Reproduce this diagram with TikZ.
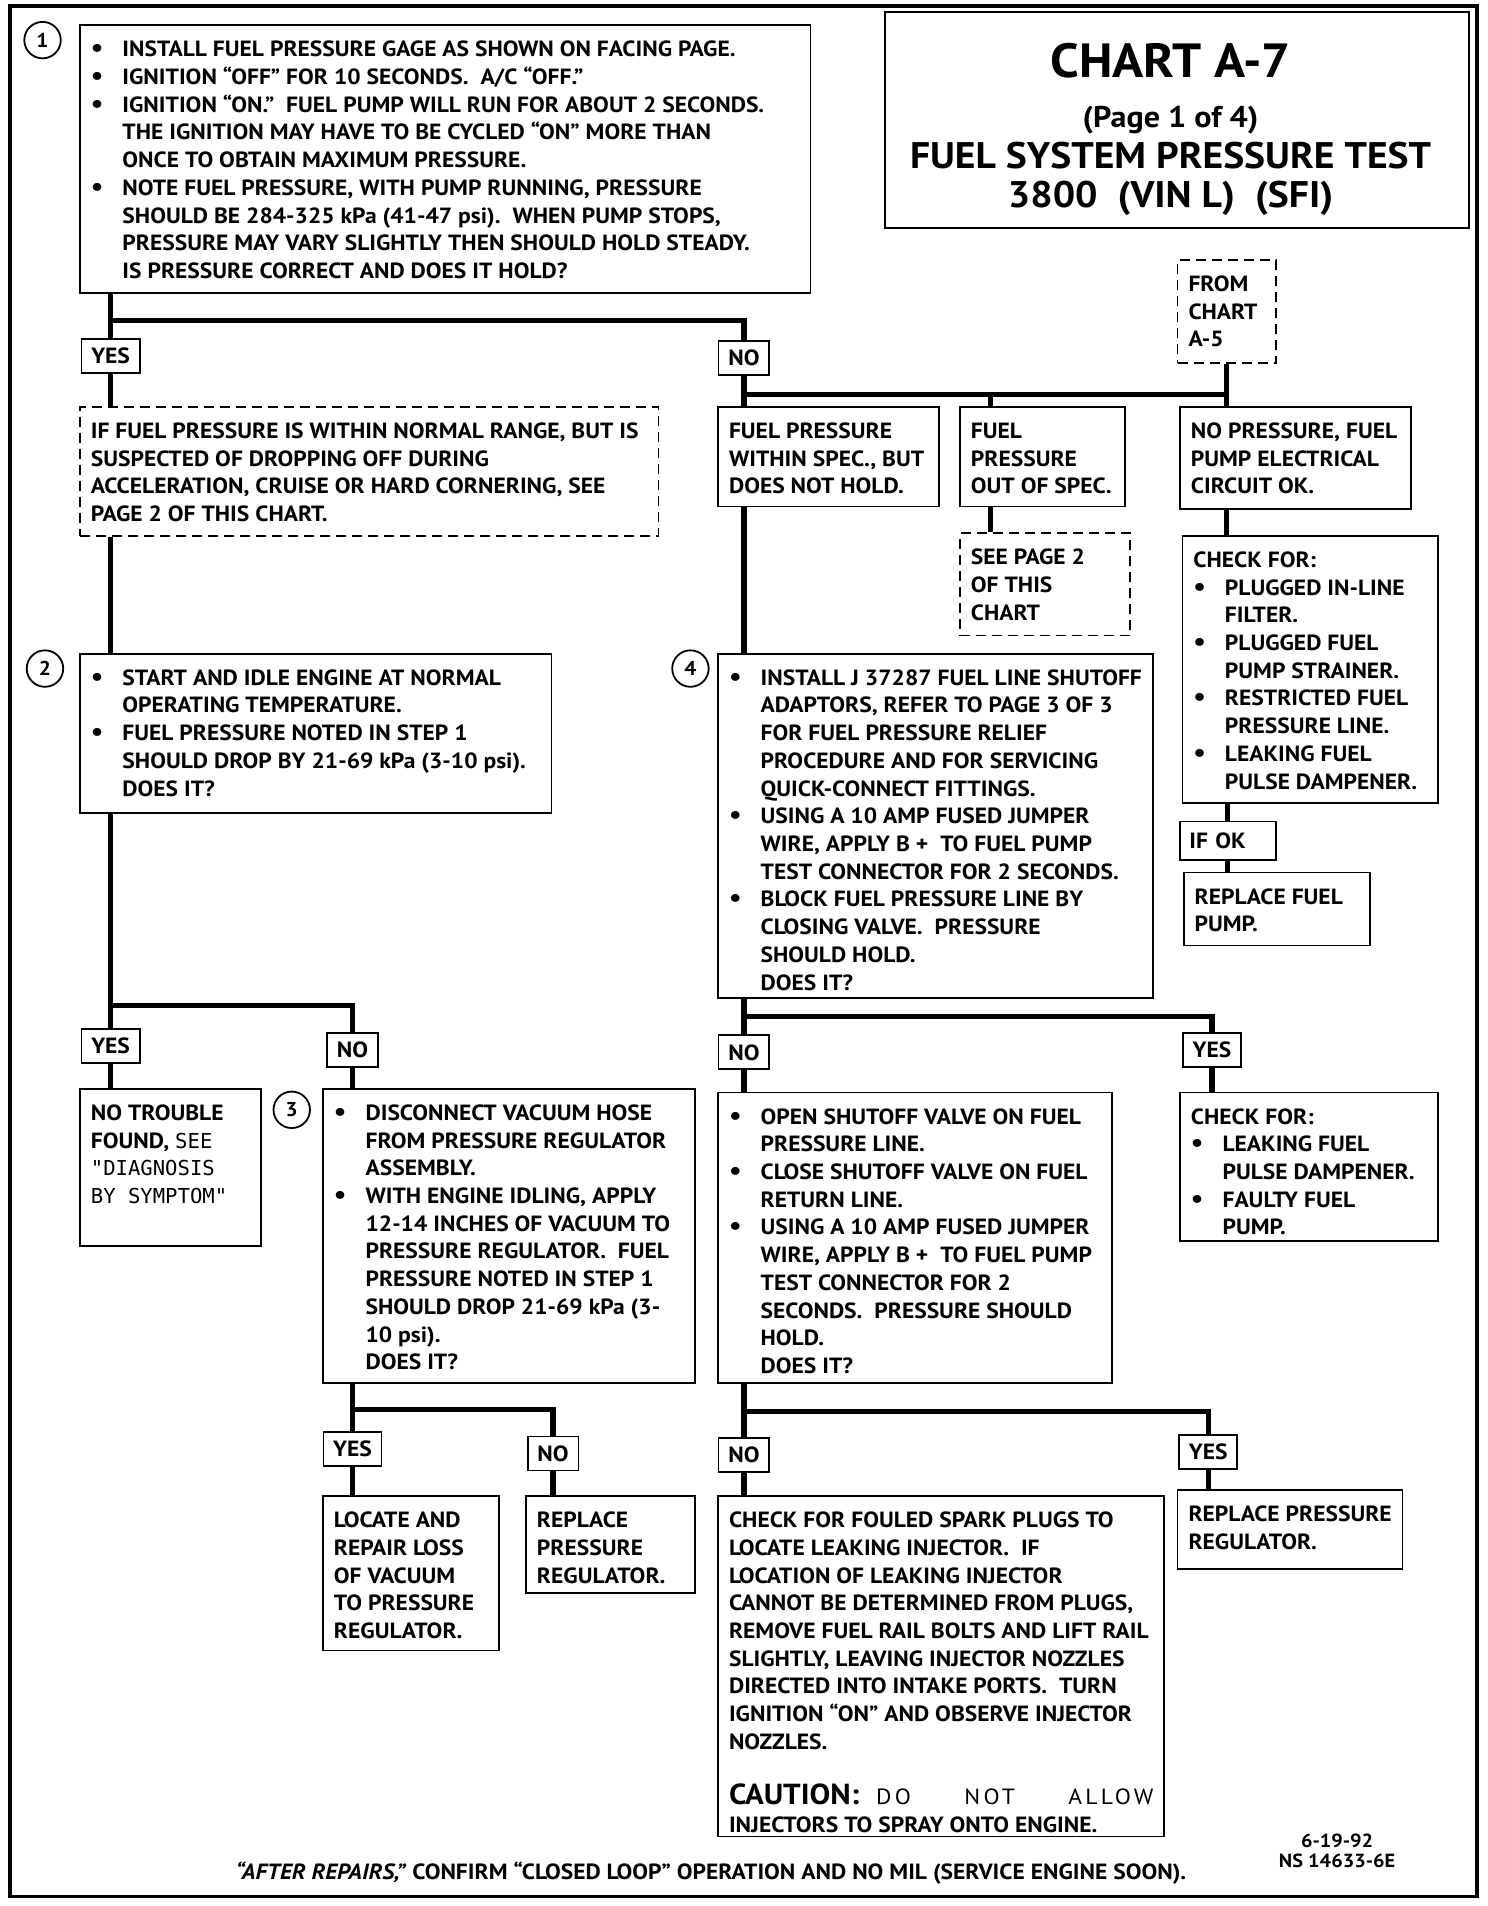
\documentclass[tikz,border=0pt]{standalone}
\usepackage{fontspec}
\setmainfont{PT Sans}[FakeStretch=1.07]
\newfontfamily\typed{DejaVu Sans Mono}
\usetikzlibrary{positioning,calc}

\newlength\pxu
\setlength\pxu{0.6079pt}
% fixed size text block, top aligned
\newcommand{\panel}[3]{\parbox[t][#2\pxu][t]{\dimexpr#1\pxu+4\pxu\relax}{%
  \rightskip=-10\pxu plus 1fil\strut#3}}
\newcommand{\bul}{\makebox[26\pxu][l]{\fontsize{13}{0}\selectfont\textbullet}}
\newcommand{\ind}{\hspace*{26\pxu}}

\begin{document}
\begin{tikzpicture}[
  x=0.6079pt, y=-0.6079pt,
  txt/.style={font=\bfseries\fontsize{11}{13.86}\selectfont},
  box/.style={txt, draw, line width=0.9pt, anchor=north west,
              inner xsep=9\pxu, inner ysep=10\pxu},
  dbox/.style={box, dash pattern=on 5pt off 3pt},
  tag/.style={txt, draw, line width=0.9pt, anchor=north,
              minimum height=28\pxu, inner xsep=8\pxu, inner ysep=0pt},
  num/.style={draw, circle, line width=0.9pt, minimum size=30\pxu,
              inner sep=0pt, font=\bfseries\fontsize{10}{12}\selectfont},
  flow/.style={line width=2.6pt},
  frame/.style={line width=1.8pt}
]
\useasboundingbox (0,0) rectangle (1224,1568);
\draw[frame] (8,5) rectangle (1215,1560);

% title
\node[draw, line width=0.9pt, anchor=north west, minimum width=481\pxu,
      minimum height=178\pxu] (titlebox) at (727,9) {};
\node[anchor=base, font=\bfseries\fontsize{24}{28}\selectfont] (chart) at (963,64) {CHART A-7};
\node[anchor=base, font=\bfseries\fontsize{15}{18}\selectfont] (page) at (963,105) {(Page 1 of 4)};
\node[anchor=base, font=\bfseries\fontsize{18.5}{22}\selectfont] (test) at (963,139) {FUEL SYSTEM PRESSURE TEST};
\node[anchor=base, font=\bfseries\fontsize{18.5}{22}\selectfont] (engine) at (963,171) {3800\ \ (VIN L)\ \ (SFI)};

% step 1
\node[num] (n1) at (35,33) {1};
\node[box] (s1) at (65,20) {\panel{579}{200}{%
  \bul INSTALL FUEL PRESSURE GAGE AS SHOWN ON FACING PAGE.\\
  \bul IGNITION ``OFF'' FOR 10 SECONDS.\ \ A/C ``OFF.''\\
  \bul IGNITION ``ON.''\ \ FUEL PUMP WILL RUN FOR ABOUT 2 SECONDS.\\
  \ind THE IGNITION MAY HAVE TO BE CYCLED ``ON'' MORE THAN\\
  \ind ONCE TO OBTAIN MAXIMUM PRESSURE.\\
  \bul NOTE FUEL PRESSURE, WITH PUMP RUNNING, PRESSURE\\
  \ind SHOULD BE 284-325 kPa (41-47 psi).\ \ WHEN PUMP STOPS,\\
  \ind PRESSURE MAY VARY SLIGHTLY THEN SHOULD HOLD STEADY.\\
  \ind IS PRESSURE CORRECT AND DOES IT HOLD?}};
\node[dbox] (from) at (968,213) {\panel{59}{65}{FROM\\CHART\\A-5}};

\node[tag] (yes1) at (91,278) {YES};
\node[tag] (no1) at (612,280) {NO};
\node[dbox] (note1) at (65,334) {\panel{454}{86}{%
  IF FUEL PRESSURE IS WITHIN NORMAL RANGE, BUT IS\\
  SUSPECTED OF DROPPING OFF DURING\\
  ACCELERATION, CRUISE OR HARD CORNERING, SEE\\
  PAGE 2 OF THIS CHART.}};
\node[box] (fa) at (590,334) {\panel{160}{62}{FUEL PRESSURE\\WITHIN SPEC., BUT\\DOES NOT HOLD.}};
\node[box] (fb) at (789,334) {\panel{114}{62}{FUEL\\PRESSURE\\OUT OF SPEC.}};
\node[box] (fc) at (970,334) {\panel{168}{64}{NO PRESSURE, FUEL\\PUMP ELECTRICAL\\CIRCUIT OK.}};
\node[dbox] (seep2) at (789,438) {\panel{118}{64}{SEE PAGE 2\\OF THIS\\CHART}};
\node[box] (chk1) at (972,440) {\panel{188}{200}{%
  CHECK FOR:\\
  \bul PLUGGED IN-LINE\\ \ind FILTER.\\
  \bul PLUGGED FUEL\\ \ind PUMP STRAINER.\\
  \bul RESTRICTED FUEL\\ \ind PRESSURE LINE.\\
  \bul LEAKING FUEL\\ \ind PULSE DAMPENER.}};
\node[tag, minimum height=32\pxu, text width=63\pxu, align=left,
      inner xsep=8\pxu] (ifok) at (1010,675) {IF OK};
\node[box] (rpump) at (973,717) {\panel{131}{40}{REPLACE FUEL\\PUMP.}};

% step 2 and 4
\node[num] (n2) at (37,550) {2};
\node[box] (s2) at (65,537) {\panel{366}{111}{%
  \bul START AND IDLE ENGINE AT NORMAL\\
  \ind OPERATING TEMPERATURE.\\
  \bul FUEL PRESSURE NOTED IN STEP 1\\
  \ind SHOULD DROP BY 21-69 kPa (3-10 psi).\\
  \ind DOES IT?}};
\node[num] (n4) at (568,550) {4};
\node[box] (s4) at (590,537) {\panel{336}{263}{%
  \bul INSTALL J 37287 FUEL LINE SHUTOFF\\
  \ind ADAPTORS, REFER TO PAGE 3 OF 3\\
  \ind FOR FUEL PRESSURE RELIEF\\
  \ind PROCEDURE AND FOR SERVICING\\
  \ind QUICK-CONNECT FITTINGS.\\
  \bul USING A 10 AMP FUSED JUMPER\\
  \ind WIRE, APPLY B +\ \ TO FUEL PUMP\\
  \ind TEST CONNECTOR FOR 2 SECONDS.\\
  \bul BLOCK FUEL PRESSURE LINE BY\\
  \ind CLOSING VALVE.\ \ PRESSURE\\
  \ind SHOULD HOLD.\\
  \ind DOES IT?}};

\node[tag] (yes2) at (91,846) {YES};
\node[tag] (no2) at (290,849) {NO};
\node[tag] (no4) at (612,851) {NO};
\node[tag] (yes4) at (997,849) {YES};

% step 3 and 5
\node[box] (ntf) at (65,895) {\panel{127}{109}{%
  NO TROUBLE\\
  FOUND, {\typed\mdseries\fontsize{10.3}{13.86}\selectfont SEE}\\
  {\typed\mdseries\fontsize{10.3}{13.86}\selectfont "DIAGNOSIS}\\
  {\typed\mdseries\fontsize{10.3}{13.86}\selectfont BY SYMPTOM"}}};
\node[num] (n3) at (240,913) {3};
\node[box] (s3) at (265,895) {\panel{284}{222}{%
  \bul DISCONNECT VACUUM HOSE\\
  \ind FROM PRESSURE REGULATOR\\
  \ind ASSEMBLY.\\
  \bul WITH ENGINE IDLING, APPLY\\
  \ind 12-14 INCHES OF VACUUM TO\\
  \ind PRESSURE REGULATOR.\ \ FUEL\\
  \ind PRESSURE NOTED IN STEP 1\\
  \ind SHOULD DROP 21-69 kPa (3-\\
  \ind 10 psi).\\
  \ind DOES IT?}};
\node[box] (s5) at (590,898) {\panel{302}{219}{%
  \bul OPEN SHUTOFF VALVE ON FUEL\\
  \ind PRESSURE LINE.\\
  \bul CLOSE SHUTOFF VALVE ON FUEL\\
  \ind RETURN LINE.\\
  \bul USING A 10 AMP FUSED JUMPER\\
  \ind WIRE, APPLY B +\ \ TO FUEL PUMP\\
  \ind TEST CONNECTOR FOR 2\\
  \ind SECONDS.\ \ PRESSURE SHOULD\\
  \ind HOLD.\\
  \ind DOES IT?}};
\node[box] (chk2) at (970,898) {\panel{190}{102}{%
  CHECK FOR:\\
  \bul LEAKING FUEL\\ \ind PULSE DAMPENER.\\
  \bul FAULTY FUEL\\ \ind PUMP.}};

\node[tag] (yes3) at (290,1177) {YES};
\node[tag] (no3) at (455,1181) {NO};
\node[tag] (no5) at (612,1182) {NO};
\node[tag] (yes5) at (994,1180) {YES};

\node[box] (loc) at (265,1230) {\panel{123}{107}{LOCATE AND\\REPAIR LOSS\\OF VACUUM\\TO PRESSURE\\REGULATOR.}};
\node[box] (rreg1) at (432,1230) {\panel{117}{60}{REPLACE\\PRESSURE\\REGULATOR.}};
\node[box] (leak) at (590,1230) {\panel{345}{260}{%
  CHECK FOR FOULED SPARK PLUGS TO\\
  LOCATE LEAKING INJECTOR.\ \ IF\\
  LOCATION OF LEAKING INJECTOR\\
  CANNOT BE DETERMINED FROM PLUGS,\\
  REMOVE FUEL RAIL BOLTS AND LIFT RAIL\\
  SLIGHTLY, LEAVING INJECTOR NOZZLES\\
  DIRECTED INTO INTAKE PORTS.\ \ TURN\\
  IGNITION ``ON'' AND OBSERVE INJECTOR\\
  NOZZLES.\\[13.86pt]
  \makebox[\linewidth][s]{{\fontsize{14.5}{13.86}\selectfont CAUTION:}\hspace{14\pxu}%
  {\mdseries\addfontfeatures{LetterSpace=15}DO}\hfill
  {\mdseries\addfontfeatures{LetterSpace=15}NOT}\hfill
  {\mdseries\addfontfeatures{LetterSpace=15}ALLOW}}\\
  INJECTORS TO SPRAY ONTO ENGINE.}};
\node[box] (rreg2) at (968,1225) {\panel{163}{45}{REPLACE PRESSURE\\REGULATOR.}};

% connectors
\draw[flow] (s1.south -| yes1) -- (yes1.north);
\coordinate (j1) at ($(s1.south -| yes1)+(0,22)$);
\draw[flow] (j1) -| (no1.north);
\draw[flow] (yes1.south) -- (yes1.south |- note1.north);
\draw[flow] (yes1.south |- note1.south) -- (yes1.south |- s2.north);
\draw[flow] (no1.south) -- (no1.south |- fa.north);
\coordinate (j2) at ($(no1.south)+(0,15)$);
\coordinate (colb) at (815,0);
\draw[flow] (j2) -| (from.south);
\draw[flow] (j2 -| from.south) -- (from.south |- fc.north);
\draw[flow] (j2 -| colb) -- (colb |- fb.north);
\draw[flow] (colb |- fb.south) -- (colb |- seep2.north);
\draw[flow] (from.south |- fc.south) -- (from.south |- chk1.north);
\draw[flow] (ifok.north |- chk1.south) -- (ifok.north);
\draw[flow] (ifok.south) -- (ifok.south |- rpump.north);
\draw[flow] (no1.south |- fa.south) -- (no1.south |- s4.north);

\coordinate (j3) at ($(s2.south -| yes1)+(0,158)$);
\draw[flow] (s2.south -| yes1) -- (yes2.north);
\draw[flow] (j3) -| (no2.north);
\draw[flow] (yes2.south) -- (yes2.south |- ntf.north);
\draw[flow] (no2.south) -- (no2.south |- s3.north);
\coordinate (j4) at ($(s3.south -| no2)+(0,21)$);
\draw[flow] (s3.south -| no2) -- (yes3.north);
\draw[flow] (j4) -| (no3.north);
\draw[flow] (yes3.south) -- (yes3.south |- loc.north);
\draw[flow] (no3.south) -- (no3.south |- rreg1.north);

\coordinate (j5) at ($(s4.south -| no1)+(0,15)$);
\draw[flow] (s4.south -| no1) -- (no4.north);
\draw[flow] (j5) -| (yes4.north);
\draw[flow] (no4.south) -- (no4.south |- s5.north);
\draw[flow] (yes4.south) -- (yes4.south |- chk2.north);
\coordinate (j6) at ($(s5.south -| no4)+(0,23)$);
\draw[flow] (s5.south -| no4) -- (no5.north);
\draw[flow] (j6) -| (yes5.north);
\draw[flow] (no5.south) -- (no5.south |- leak.north);
\draw[flow] (yes5.south) -- (yes5.south |- rreg2.north);

% footer
\node[anchor=north, align=center, inner sep=0pt,
      font=\bfseries\fontsize{9.5}{10.4}\selectfont] (date) at (1100,1508) {6-19-92\\NS 14633-6E};
\node[anchor=base, txt] (foot) at (585,1546)
  {\textit{``AFTER REPAIRS,''} CONFIRM ``CLOSED LOOP'' OPERATION AND NO MIL (SERVICE ENGINE SOON).};
\end{tikzpicture}
\end{document}
